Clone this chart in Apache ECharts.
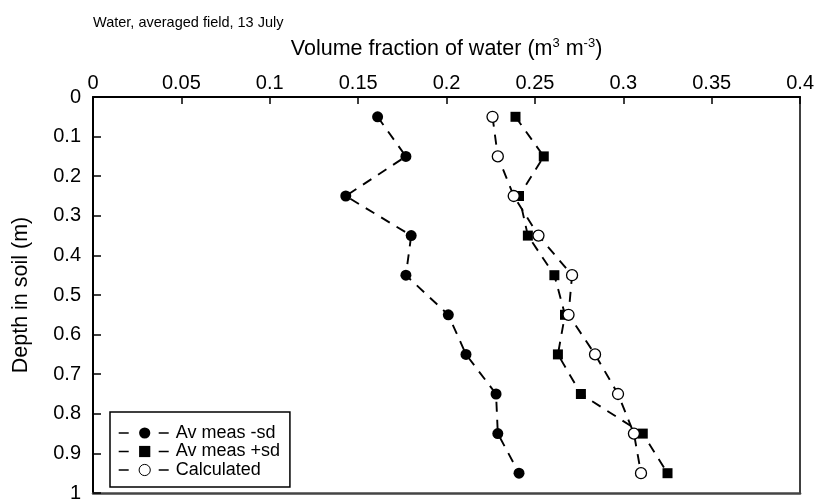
<!DOCTYPE html>
<html><head><meta charset="utf-8">
<script src="https://cdn.jsdelivr.net/npm/echarts@6/dist/echarts.min.js"></script>
<style>html,body{margin:0;padding:0;background:#fff}#c{width:817px;height:503px}</style>
</head><body><div id="c"></div>
<script>
const depths = [0.05, 0.15, 0.25, 0.35, 0.45, 0.55, 0.65, 0.75, 0.85, 0.95];
const measMinusSd = [0.161, 0.177, 0.143, 0.180, 0.177, 0.201, 0.211, 0.228, 0.229, 0.241];
const measPlusSd = [0.239, 0.255, 0.241, 0.246, 0.261, 0.267, 0.263, 0.276, 0.311, 0.325];
const calculated = [0.226, 0.229, 0.238, 0.252, 0.271, 0.269, 0.284, 0.297, 0.306, 0.310];
const seriesNames = ['Av meas -sd', 'Av meas +sd', 'Calculated'];

const FONT = '"Liberation Sans", Arial, Helvetica, sans-serif';
const pairs = vals => vals.map((v, i) => [v, depths[i]]);
const dash = { color: '#000', width: 1.9, type: [10, 8] };

const chart = echarts.init(document.getElementById('c'), null, { renderer: 'canvas' });
chart.setOption({
  animation: false,
  backgroundColor: '#fff',
  textStyle: { fontFamily: FONT, color: '#000' },
  title: {
    text: 'Water, averaged field, 13 July',
    left: 88, top: 10,
    textStyle: { fontFamily: FONT, fontSize: 14.5, fontWeight: 'normal', color: '#000' }
  },
  grid: { left: 93, top: 97, right: 15, bottom: 7, show: false },
  legend: {
    orient: 'vertical', left: 110, top: 412,
    data: [
      { name: seriesNames[0] },
      { name: seriesNames[1] },
      { name: seriesNames[2], itemStyle: { borderWidth: 1 } }
    ],
    itemWidth: 52, itemHeight: 14, itemGap: 0.5,
    padding: [12, 10, 8, 8],
    borderColor: '#000', borderWidth: 1.5, borderRadius: 0,
    backgroundColor: '#fff',
    lineStyle: { width: 1.4, type: [10, 30] },
    textStyle: { fontFamily: FONT, fontSize: 18, color: '#000', lineHeight: 18 }
  },
  xAxis: [{
    type: 'value', position: 'top', min: 0, max: 0.4, interval: 0.05,
    name: 'Volume fraction of water (m{sup|3} m{sup|-3})',
    nameLocation: 'middle', nameGap: 36,
    nameTextStyle: {
      fontFamily: FONT, fontSize: 21.5, color: '#000',
      rich: { sup: { fontFamily: FONT, fontSize: 13, color: '#000', padding: [0, 0, 11, 0] } }
    },
    axisLine: { show: true, lineStyle: { color: '#000', width: 2 } },
    axisTick: { show: true, inside: true, length: 7, lineStyle: { color: '#000', width: 1.5 } },
    axisLabel: { fontFamily: FONT, fontSize: 20, color: '#000', margin: 4 },
    splitLine: { show: false }
  }, {
    type: 'value', position: 'bottom', min: 0, max: 0.4, interval: 0.05,
    axisLine: { show: true, onZero: false, lineStyle: { color: '#444', width: 2.5 } },
    axisTick: { show: false }, axisLabel: { show: false }, splitLine: { show: false }
  }],
  yAxis: [{
    type: 'value', inverse: true, min: 0, max: 1, interval: 0.1,
    name: 'Depth in soil (m)', nameLocation: 'middle', nameGap: 61, nameRotate: 90,
    nameTextStyle: { fontFamily: FONT, fontSize: 21.5, color: '#000' },
    axisLine: { show: true, lineStyle: { color: '#000', width: 2 } },
    axisTick: { show: true, inside: true, length: 8, lineStyle: { color: '#000', width: 1.5 } },
    axisLabel: { fontFamily: FONT, fontSize: 20, color: '#000', margin: 12 },
    splitLine: { show: false }
  }, {
    type: 'value', position: 'right', inverse: true, min: 0, max: 1, interval: 0.1,
    axisLine: { show: true, onZero: false, lineStyle: { color: '#000', width: 1.5 } },
    axisTick: { show: false }, axisLabel: { show: false }, splitLine: { show: false }
  }],
  series: [
    {
      name: seriesNames[0], type: 'line', data: pairs(measMinusSd),
      symbol: 'circle', symbolSize: 11,
      lineStyle: dash,
      itemStyle: { color: '#000', borderColor: '#000', borderWidth: 0 },
      z: 2
    },
    {
      name: seriesNames[1], type: 'line', data: pairs(measPlusSd),
      symbol: 'rect', symbolSize: 10,
      lineStyle: dash,
      itemStyle: { color: '#000', borderColor: '#000', borderWidth: 0 },
      z: 3
    },
    {
      name: seriesNames[2], type: 'line', data: pairs(calculated),
      symbol: 'circle', symbolSize: 11,
      lineStyle: dash,
      itemStyle: { color: '#fff', borderColor: '#000', borderWidth: 1.3 },
      z: 4
    }
  ]
});
</script></body></html>
